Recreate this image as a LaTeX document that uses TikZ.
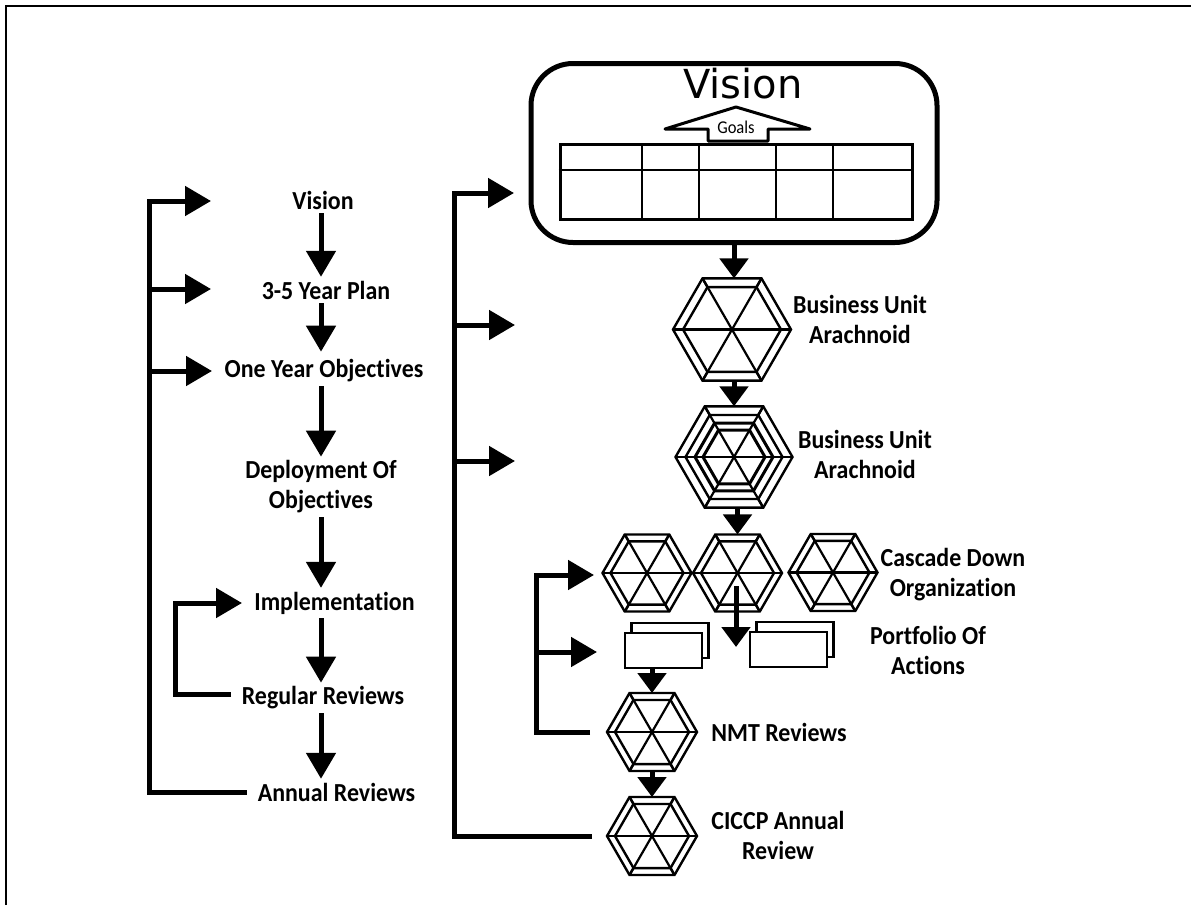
\documentclass[tikz,border=0pt]{standalone}
\usepackage{fontspec}
\setmainfont{Carlito}[FakeStretch=0.92,Ligatures=NoCommon]
\newfontfamily\titlefont{DejaVu Sans}
\usepackage{tikz}
\usetikzlibrary{calc}
\usetikzlibrary{arrows.meta}
\usetikzlibrary{shapes.geometric}
\tikzset{>={Triangle[length=26pt,width=29pt]}}
\tikzstyle{label} = [align=center, font=\bfseries\fontsize{26}{30}\selectfont, inner sep=1pt, outer sep=3pt]
\tikzstyle{flow} = [->, line width=5pt, line join=miter]
\tikzstyle{flowsmall} = [-{Triangle[length=20pt,width=28pt]}, line width=5pt]
\tikzstyle{hexa} = [regular polygon, regular polygon sides=6, draw=black, line width=2.4pt, inner sep=0, outer sep=0, fill=white]
\tikzstyle{card} = [draw=black, line width=2.4pt, fill=white, minimum width=77pt, minimum height=35pt, inner sep=0]
% #1 name, #2 centre, #3 outer size, #4 inner size
\newcommand{\arachnoid}[4]{
\node [hexa, minimum size=#3] (#1) at (#2) {};
\node [hexa, minimum size=#4] (#1in) at (#2) {};
\foreach \i in {1,...,6} {\draw [line width=2.4pt] (#1.corner \i) -- (#1in.corner \i);}
\draw [line width=2.2pt] (#1.corner 1) -- (#1.corner 4);
\draw [line width=2.2pt] (#1.corner 2) -- (#1.corner 5);
\draw [line width=2.2pt] (#1.corner 3) -- (#1.corner 6);
}
\begin{document}
\begin{tikzpicture}[x=1pt, y=-1pt]
\useasboundingbox (0,0) rectangle (1191,905);
\draw [line width=2.5pt] (6,905) -- (6,6) -- (1191,6);

% left column
\node [label] (vis) at (323,200) {Vision};
\node [label] (plan) at (326,290) {3-5 Year Plan};
\node [label] (year) at (324,371) {One Year Objectives};
\node [label] (depl) at (321,487) {Deployment Of\\Objectives};
\node [label] (impl) at (334.5,603) {Implementation};
\node [label] (regu) at (323,698) {Regular Reviews};
\node [label] (annu) at (336.5,792) {Annual Reviews};
\coordinate (colx) at (321,0);
\draw [flow] (colx |- vis.south) -- (colx |- plan.north);
\draw [flow, shorten >=4pt] (colx |- plan.south) -- (colx |- year.north);
\draw [flow] (colx |- year.south) -- (colx |- depl.north);
\draw [flow] (colx |- depl.south) -- (colx |- impl.north);
\draw [flow] (colx |- impl.south) -- (colx |- regu.north);
\draw [flow] (colx |- regu.south) -- (colx |- annu.north);

\coordinate (t1) at (149,201);
\coordinate (t1end) at (211,201);
\coordinate (t2) at (149,289);
\coordinate (t2end) at (211,289);
\coordinate (t3) at (149,371);
\coordinate (t3end) at (212,371);
\draw [flow] ($(annu.west)+(-7,0)$) -| (t1) -- (t1end);
\draw [flow] (t2) -- (t2end);
\draw [flow] (t3) -- (t3end);
\coordinate (loop) at (175,603);
\coordinate (loopstart) at (231,694);
\coordinate (loopend) at (242,603);
\draw [flow] (loopstart) -| (loop) -- (loopend);

% vision box
\node [draw=black, line width=5pt, rounded corners=42pt, minimum width=406pt, minimum height=179pt, inner sep=0] (box) at (734,153) {};
\node [font=\titlefont\fontsize{40}{40}\selectfont, inner sep=0] (title) at (743,84) {Vision};
\node [draw=black, line width=3pt, minimum width=352pt, minimum height=75pt, inner sep=0] (goaltab) at (736,181.5) {};
\draw [line width=2pt] (goaltab.west |- 0,170) -- (goaltab.east |- 0,170);
\foreach \x in {642,699,776,833} {\draw [line width=2pt] (\x,144) -- (\x,219);}
\draw [line width=3pt, line join=round, fill=white] (736,107) -- (810,129) -- (768,129) -- (768,141) -- (708,141) -- (708,129) -- (665,129) -- cycle;
\node [font=\fontsize{18}{18}\selectfont, inner sep=0] (goals) at (736,127) {Goals};

% right column
\arachnoid{bu}{732,329.5}{118pt}{98pt}
\arachnoid{bv}{734,457}{117pt}{97pt}
\node [hexa, minimum size=78pt, line width=3pt, fill=none] (bvb) at (734,457) {};
\node [hexa, minimum size=62pt, line width=3pt, fill=none] (bvc) at (734,457) {};
\arachnoid{ca}{647,573}{89pt}{73pt}
\arachnoid{cb}{737.5,573}{89pt}{73pt}
\arachnoid{cc}{833,572.5}{89pt}{73pt}
\arachnoid{nmt}{652,732}{90pt}{74pt}
\arachnoid{cic}{652,836}{90pt}{74pt}

\node [card] (pa) at (670,640.5) {};
\node [card] (pb) at (663.5,650.5) {};
\node [card] (pc) at (795,639.5) {};
\node [card] (pd) at (788.5,649.5) {};

\node [label] (bul) at (860,319.5) {Business Unit\\Arachnoid};
\node [label] (bvl) at (865,454) {Business Unit\\Arachnoid};
\node [label] (cal) at (953,575) {Cascade Down\\Organization};
\node [label] (pol) at (928,650.5) {Portfolio Of\\Actions};
\node [label] (nmtl) at (779,732) {NMT Reviews};
\node [label] (cicl) at (778,835) {CICCP Annual\\Review};

\draw [flowsmall] (box.south -| bv) -- (bv |- bu.north);
\draw [flowsmall] (bv |- bu.south) -- (bv.north);
\draw [flowsmall] (bv.south -| cb) -- (cb.north);
\coordinate (inner) at (736,586);
\coordinate (innerend) at (736,647);
\draw [flowsmall] (inner) -- (innerend);
\draw [flowsmall] (pb.south -| nmt) -- (nmt.north);
\draw [flowsmall] (nmt.south) -- (cic.north);

% feedback lines
\coordinate (m1) at (454,193);
\coordinate (m1end) at (514,193);
\coordinate (m2) at (454,325);
\coordinate (m2end) at (515,325);
\coordinate (m3) at (454,461);
\coordinate (m3end) at (515,461);
\draw [flow] ($(cic.west)+(-15,0)$) -| (m1) -- (m1end);
\draw [flow] (m2) -- (m2end);
\draw [flow] (m3) -- (m3end);
\coordinate (n1) at (536,575);
\coordinate (n1end) at (594,575);
\coordinate (n2) at (536,652);
\coordinate (n2end) at (597,652);
\draw [flow] ($(nmt.west)+(-17,0)$) -| (n1) -- (n1end);
\draw [flow] (n2) -- (n2end);
\end{tikzpicture}
\end{document}
